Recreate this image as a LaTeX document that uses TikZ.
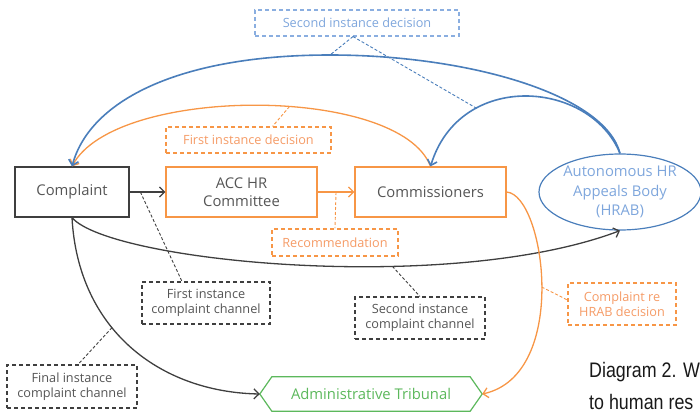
\documentclass[tikz,border=0pt]{standalone}
\usepackage{fontspec}
\setmainfont{Open Sans}
\newfontfamily\capfont[FakeStretch=0.85]{Liberation Sans}
\usetikzlibrary{arrows.meta,shapes.geometric}
\definecolor{ora}{HTML}{F79646}
\definecolor{orat}{HTML}{F59B66}
\definecolor{blu}{HTML}{4A7EBB}
\definecolor{blut}{HTML}{7EA6DC}
\definecolor{bludash}{HTML}{8AAEE0}
\definecolor{grn}{HTML}{5CB85C}
\definecolor{dgr}{HTML}{3F3F3F}
\definecolor{gtx}{HTML}{555555}
\begin{document}
\begin{tikzpicture}[x=1pt,y=-1pt,
  mainfont/.style={font=\fontsize{14.8}{18}\selectfont},
  mainbox/.style={mainfont, draw, line width=1.2pt, align=center, inner sep=0pt, minimum height=50pt},
  lblbox/.style={draw, dash pattern=on 4pt off 3pt, line width=1.1pt, align=center, inner sep=0pt,
                 font=\fontsize{12.7}{15}\selectfont},
  conn/.style={line width=1.3pt, -{Straight Barb[length=5pt,width=10pt]}},
  leader/.style={line width=0.9pt, dash pattern=on 3pt off 2pt}
]
\useasboundingbox (0,0) rectangle (700,415);

% main nodes
\node[mainbox, draw=dgr, text=gtx, minimum width=114pt] (complaint) at (72,192) {Complaint};
\node[mainbox, draw=ora, text=gtx, minimum width=151pt] (acc) at (241.5,192) {ACC HR\\Committee};
\node[mainbox, draw=ora, text=gtx, minimum width=151pt] (comm) at (430.5,192) {Commissioners};
\node[ellipse, draw=blu, text=blut, line width=1.2pt, align=center, inner sep=0pt,
      minimum width=162pt, minimum height=76pt, font=\fontsize{14.8}{19.5}\selectfont] (hrab) at (620,192)
      {Autonomous HR\\Appeals Body\\(HRAB)};
\node[mainfont, text=grn, minimum width=222pt, minimum height=34pt, inner sep=0pt] (trib) at (371,394)
      {Administrative Tribunal};
\draw[grn, line width=1.2pt] (trib.west) -- ([xshift=12pt]trib.north west) -- ([xshift=-12pt]trib.north east)
   -- (trib.east) -- ([xshift=-12pt]trib.south east) -- ([xshift=12pt]trib.south west) -- cycle;

% label boxes
\node[lblbox, draw=ora, text=orat, minimum width=165pt, minimum height=26pt] (fid) at (248.5,140) {First instance decision};
\node[lblbox, draw=bludash, text=blut, minimum width=204pt, minimum height=26pt] (sid) at (357,23) {Second instance decision};
\node[lblbox, draw=ora, text=orat, minimum width=126pt, minimum height=27pt] (rec) at (335,242.5) {Recommendation};
\node[lblbox, draw=dgr, text=gtx, minimum width=128pt, minimum height=42pt] (fic) at (206,303) {First instance\\complaint channel};
\node[lblbox, draw=dgr, text=gtx, minimum width=130pt, minimum height=42pt] (sic) at (420,318) {Second instance\\complaint channel};
\node[lblbox, draw=dgr, text=gtx, minimum width=130pt, minimum height=43pt] (fin) at (72,386.5) {Final instance\\complaint channel};
\node[lblbox, draw=ora, text=orat, minimum width=108pt, minimum height=42pt] (crh) at (622,304) {Complaint re\\HRAB decision};

% connectors
\draw[conn, dgr] (complaint) -- coordinate[pos=0.3] (l1) (acc);
\draw[conn, ora] (acc) -- coordinate[pos=0.5] (lr) (comm);
\draw[conn, dgr] (complaint.south) .. controls (110,262) and (450,295) .. coordinate[pos=0.64] (l2) (hrab.south);
\draw[conn, dgr] (complaint.south) .. controls (78,330) and (160,392) .. coordinate[pos=0.4] (l3) (trib.west);
\draw[conn, ora] (comm.east) .. controls (545,195) and (570,375) .. coordinate[pos=0.5] (l4) (trib.east);
\draw[conn, ora] (comm.north) .. controls (400,85) and (115,85) .. coordinate[pos=0.43] (lf) (complaint.north);
\coordinate (b1) at (330,55);
\draw[conn, blu, line width=1.6pt] (hrab.north) .. controls (605,95) and (470,55) .. (b1)
   .. controls (180,55) and (90,100) .. (complaint.north);
\draw[conn, blu, line width=1.6pt] (hrab.north) .. controls (590,80) and (460,70) .. coordinate[pos=0.71] (b2) (comm.north);

% leaders
\draw[leader, ora] (lf) -- ([xshift=24pt]fid.north);
\draw[leader, blu] ([xshift=-4pt]sid.south) -- (b1);
\draw[leader, blu] ([xshift=-4pt]sid.south) -- (b2);
\draw[leader, ora] (lr) -- (rec.north);
\draw[leader, dgr] (l1) -- ([xshift=-24pt]fic.north);
\draw[leader, dgr] (l2) -- (sic.north);
\draw[leader, dgr] (l3) -- ([xshift=6pt]fin.north);
\draw[leader, ora] (l4) -- ([yshift=4pt]crh.west);

% caption (cut off)
\node[anchor=base west, inner sep=0pt, font=\capfont\fontsize{21}{24}\selectfont, text=black!90] (cap1) at (589,377) {Diagram 2. W};
\node[anchor=base west, inner sep=0pt, font=\capfont\fontsize{21}{24}\selectfont, text=black!90] (cap2) at (589,409) {to human res};
\end{tikzpicture}
\end{document}
